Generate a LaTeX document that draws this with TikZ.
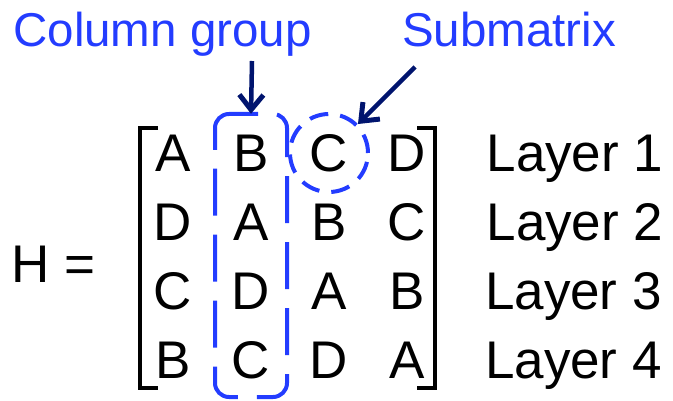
\documentclass[tikz,border=0pt]{standalone}
\usepackage{fontspec}
\setmainfont{Liberation Sans}
\usetikzlibrary{arrows.meta}
\usetikzlibrary{positioning}

\definecolor{grpblue}{RGB}{35,60,255}
\definecolor{navyarr}{RGB}{0,20,110}

\begin{document}
\begin{tikzpicture}[x=1pt,y=-1pt,node distance=78pt,
    ltr/.style={font=\fontsize{53}{60}\selectfont,inner sep=0pt,text height=36.5pt,text depth=0pt},
    lbltext/.style={font=\fontsize{47.5}{56}\selectfont,text=grpblue,inner sep=0pt},
    grparea/.style={minimum width=72pt,minimum height=283pt,inner sep=0pt},
    grpline/.style={draw=grpblue,line width=4pt,rounded corners=14pt},
    subcirc/.style={draw=grpblue,circle,line width=4pt,dash pattern=on 19pt off 12pt,
                    minimum size=78pt,inner sep=0pt},
    pointer/.style={draw=navyarr,line width=4.5pt,
                    -{Straight Barb[length=15pt,width=24pt,line width=5pt]}},
    brk/.style={line width=3.5pt}]

  \useasboundingbox (0,0) rectangle (673,401);

  % the 4x4 matrix
  \node[ltr] (a11) at (173,153) {A};
  \node[ltr] (a12) [right of=a11] {B};
  \node[ltr] (a13) [right of=a12] {C};
  \node[ltr] (a14) [right of=a13] {D};
  \node[ltr] (a21) [node distance=69pt,below of=a11] {D};
  \node[ltr] (a22) [right of=a21] {A};
  \node[ltr] (a23) [right of=a22] {B};
  \node[ltr] (a24) [right of=a23] {C};
  \node[ltr] (a31) [node distance=69pt,below of=a21] {C};
  \node[ltr] (a32) [right of=a31] {D};
  \node[ltr] (a33) [right of=a32] {A};
  \node[ltr] (a34) [right of=a33] {B};
  \node[ltr] (a41) [node distance=69pt,below of=a31] {B};
  \node[ltr] (a42) [right of=a41] {C};
  \node[ltr] (a43) [right of=a42] {D};
  \node[ltr] (a44) [right of=a43] {A};

  \node[ltr,anchor=west] (hlbl) at (11,264) {H =};

  \node[ltr] (lay1) [right=60pt of a14] {Layer 1};
  \node[ltr] (lay2) [right=60pt of a24] {Layer 2};
  \node[ltr] (lay3) [right=60pt of a34] {Layer 3};
  \node[ltr] (lay4) [right=60pt of a44] {Layer 4};

  % brackets
  \draw[brk] (158,128) -| (140,388) -- (158,388);
  \draw[brk] (417,128) -| (435,388) -- (417,388);

  % column group: dashed rounded box, long dash over the top left corner
  \node[grparea] (grp) at (251,255.5) {};
  \draw[grpline,dash pattern=on 47pt off 19pt,dash phase=62pt]
    (273,114) -| (287,397) -| (215,150);
  \draw[grpline] (215,150) |- (258,114);

  % submatrix
  \node[subcirc] (sub) at (a13) {};

  \node[lbltext,anchor=base] (cglbl) at (162.5,47) {Column group};
  \node[lbltext,anchor=base] (smlbl) at (509,47) {Submatrix};

  \coordinate (cgtail) at (252,61);
  \coordinate (smtail) at (415,67);
  \draw[pointer] (cgtail) -- (grp.north);
  \draw[pointer] (smtail) -- (sub);

\end{tikzpicture}
\end{document}
